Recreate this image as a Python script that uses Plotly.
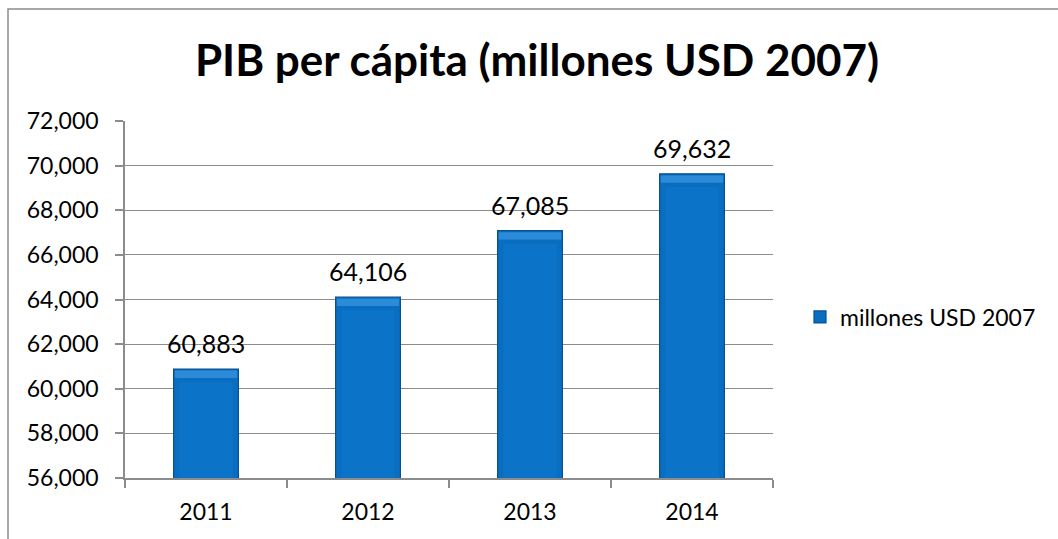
import plotly.graph_objects as go

# PIB per cápita, millones USD 2007
years = ["2011", "2012", "2013", "2014"]
values = [60883, 64106, 67085, 69632]
value_labels = ["60,883", "64,106", "67,085", "69,632"]
series_name = "millones USD 2007"
title_text = "PIB per cápita (millones USD 2007)"
y_ticks = [56000, 58000, 60000, 62000, 64000, 66000, 68000, 70000, 72000]

FONT = "Lato"
BLUE = "#0A6EC0"
BLUE_EDGE = "#08508E"
BLUE_LIGHT = "#2C8BD8"
GRID = "#8C8C8C"

W, H = 1058, 539
L, R, T, B = 125, 1058 - 773, 121, 539 - 478
pw, ph = W - L - R, H - T - B

fig = go.Figure()

# main bars
fig.add_trace(go.Bar(
    x=years, y=values, name=series_name, width=0.4,
    marker=dict(color=BLUE, line=dict(color=BLUE_EDGE, width=1.2)),
    showlegend=True,
))
# slightly lighter core of each bar for the bevelled look
fig.add_trace(go.Bar(
    x=years, y=[v - 56000 - 600 for v in values], base=56000, width=0.33,
    marker=dict(color="#0C74C8", line=dict(width=0)),
    hoverinfo="skip", showlegend=False,
))
# bright top bevel
fig.add_trace(go.Bar(
    x=years, y=[330] * len(values), base=[v - 400 for v in values], width=0.385,
    marker=dict(color=BLUE_LIGHT, line=dict(width=0)),
    hoverinfo="skip", showlegend=False,
))

# value labels above each bar (x given as category index)
annotations = [
    dict(x=i, y=v, text=lab, xref="x", yref="y", showarrow=False,
         yanchor="bottom", yshift=9, font=dict(family=FONT, size=25, color="#000000"))
    for i, (v, lab) in enumerate(zip(values, value_labels))
]

fig.update_layout(
    width=W, height=H,
    margin=dict(l=L, r=R, t=T, b=B, pad=0, autoexpand=False),
    paper_bgcolor="white", plot_bgcolor="white",
    barmode="overlay",
    font=dict(family=FONT, size=22, color="#000000"),
    title=dict(text="<b>" + title_text + "</b>", xref="container", yref="container",
               x=537 / W, y=1 - 61 / H, xanchor="center", yanchor="middle",
               font=dict(family=FONT, size=44, color="#000000")),
    xaxis=dict(
        type="category", categoryorder="array", categoryarray=years,
        range=[-0.5, len(years) - 0.5],
        showgrid=False, showline=True, linecolor=GRID, linewidth=1.5,
        ticks="outside", tickson="boundaries", ticklen=8, tickcolor=GRID, tickwidth=1.5,
        tickfont=dict(family=FONT, size=23), ticklabelstandoff=13, tickangle=0,
    ),
    yaxis=dict(
        range=[56000, 72000], tickvals=y_ticks, tickformat=",d",
        showgrid=True, gridcolor=GRID, gridwidth=1.2,
        showline=True, linecolor=GRID, linewidth=1.5,
        ticks="outside", ticklen=8, tickcolor=GRID, tickwidth=1.5,
        tickfont=dict(family=FONT, size=23), ticklabelstandoff=12, zeroline=False,
    ),
    legend=dict(x=(800 - L) / pw, y=(478 - 317) / ph, xanchor="left", yanchor="middle",
                font=dict(family=FONT, size=23), bgcolor="rgba(0,0,0,0)", itemwidth=30),
    annotations=annotations,
    shapes=[dict(type="rect", xref="paper", yref="paper",
                 x0=(8 - L) / pw, x1=(W + 10 - L) / pw,
                 y0=(478 - H - 10) / ph, y1=(478 - 9) / ph,
                 line=dict(color="#8C8C8C", width=1.5), fillcolor="rgba(0,0,0,0)", layer="below")],
)

fig.write_html("out.html")
